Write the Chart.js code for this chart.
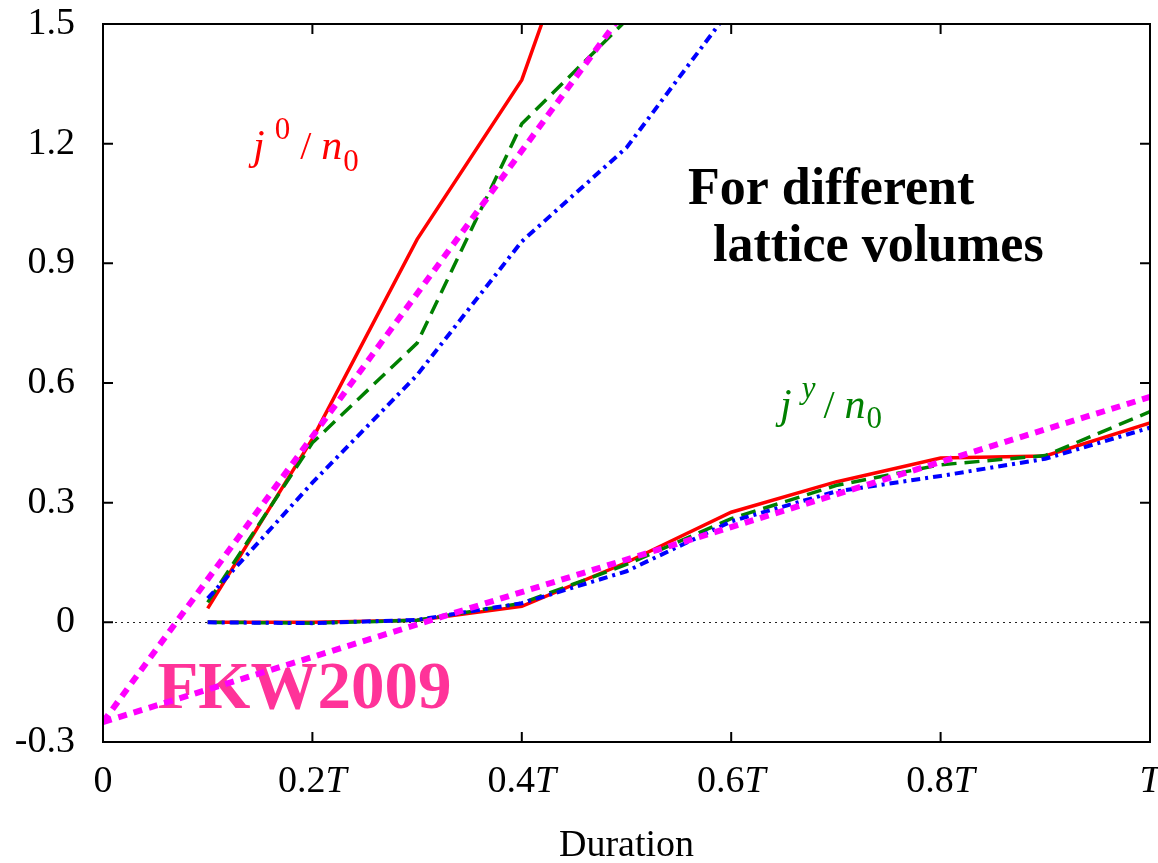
<!DOCTYPE html>
<html>
<head>
<meta charset="utf-8">
<script src="https://cdn.jsdelivr.net/npm/chart.js@4.4.1/dist/chart.umd.min.js"></script>
<style>
    html, body { margin: 0; padding: 0; background: #fff; overflow: hidden; }
    canvas { display: block; }
</style>
</head>
<body>
<canvas id="lineChart" width="1158" height="863"></canvas>
<script>
// durations in units of T
const durations = [0.1, 0.2, 0.3, 0.4, 0.5, 0.6, 0.7, 0.8, 0.9, 1.0];

// j^0 / n_0 (leave the plot above 1.5)
const j0Red = [0.035, 0.46, 0.96, 1.36, 2.1];
const j0Green = [0.05, 0.45, 0.70, 1.25, 1.51];
const j0Blue = [0.06, 0.35, 0.62, 0.955, 1.19, 1.54];

// j^y / n_0
const jyRed = [0, 0, 0.005, 0.04, 0.15, 0.276, 0.352, 0.412, 0.417, 0.50];
const jyGreen = [0, -0.002, 0.005, 0.048, 0.145, 0.26, 0.343, 0.395, 0.418, 0.528];
const jyBlue = [0, -0.002, 0.006, 0.048, 0.128, 0.253, 0.328, 0.367, 0.41, 0.488];

// FKW2009 straight lines
const fitJ0X = [0, 0.5];
const fitJ0 = [-0.25, 1.54];
const fitJyX = [0, 1.0];
const fitJy = [-0.25, 0.565];

// axes
const xTicks = [0, 0.2, 0.4, 0.6, 0.8, 1.0];
const xTickLabels = ['0', '0.2T', '0.4T', '0.6T', '0.8T', 'T'];
const yTicks = [-0.3, 0, 0.3, 0.6, 0.9, 1.2, 1.5];
const yTickLabels = ['-0.3', '0', '0.3', '0.6', '0.9', '1.2', '1.5'];

const SERIF = "'Liberation Serif', 'DejaVu Serif', serif";

function pts(xs, ys) {
    return ys.map((v, i) => ({ x: xs[i], y: v }));
}

function line(data, color, width, dash) {
    return {
        data: data,
        borderColor: color,
        borderWidth: width,
        borderDash: dash,
        borderCapStyle: 'butt',
        pointRadius: 0,
        fill: false,
        tension: 0,
        clip: 0
    };
}

// draws text pieces one after another: [text, font, dy, gap]
function drawPieces(ctx, x, y, color, pieces) {
    ctx.fillStyle = color;
    ctx.textBaseline = 'alphabetic';
    ctx.textAlign = 'left';
    let cx = x;
    pieces.forEach(p => {
        ctx.font = p[1];
        ctx.fillText(p[0], cx + (p[3] || 0), y + p[2]);
        cx += ctx.measureText(p[0]).width + (p[3] || 0);
    });
}

const framePlugin = {
    id: 'frame',
    beforeDatasetsDraw(chart) {
        const { ctx, chartArea: a, scales: { x, y } } = chart;
        ctx.save();
        // zero axis
        const y0 = Math.round(y.getPixelForValue(0)) + 0.5;
        ctx.strokeStyle = '#222';
        ctx.lineWidth = 1;
        ctx.setLineDash([2, 4]);
        ctx.beginPath();
        ctx.moveTo(a.left, y0);
        ctx.lineTo(a.right, y0);
        ctx.stroke();
        ctx.setLineDash([]);
        // FKW2009 sits under the dotted line
        ctx.font = 'bold 67px ' + SERIF;
        ctx.fillStyle = 'rgb(255, 51, 153)';
        ctx.textBaseline = 'alphabetic';
        ctx.fillText('FKW2009', x.getPixelForValue(0.052), y.getPixelForValue(-0.215));
        ctx.restore();
    },
    afterDatasetsDraw(chart) {
        const { ctx, chartArea: a, scales: { x, y } } = chart;
        ctx.save();
        ctx.strokeStyle = '#000';
        ctx.lineWidth = 2;
        ctx.strokeRect(a.left, a.top, a.right - a.left, a.bottom - a.top);
        ctx.beginPath();
        xTicks.forEach(v => {
            const px = x.getPixelForValue(v);
            ctx.moveTo(px, a.bottom); ctx.lineTo(px, a.bottom - 10);
            ctx.moveTo(px, a.top); ctx.lineTo(px, a.top + 10);
        });
        yTicks.forEach(v => {
            const py = y.getPixelForValue(v);
            ctx.moveTo(a.left, py); ctx.lineTo(a.left + 10, py);
            ctx.moveTo(a.right, py); ctx.lineTo(a.right - 10, py);
        });
        ctx.stroke();

        // x tick labels with italic T
        xTickLabels.forEach((lab, i) => {
            const px = x.getPixelForValue(xTicks[i]);
            const num = lab.replace('T', '');
            const hasT = lab.endsWith('T');
            ctx.font = '38px ' + SERIF;
            const w1 = ctx.measureText(num).width;
            ctx.font = 'italic 38px ' + SERIF;
            const w2 = hasT ? ctx.measureText('T').width : 0;
            const left = px - (w1 + w2) / 2;
            ctx.fillStyle = '#000';
            ctx.textBaseline = 'alphabetic';
            ctx.textAlign = 'left';
            ctx.font = '38px ' + SERIF;
            ctx.fillText(num, left, 792);
            if (hasT) {
                ctx.font = 'italic 38px ' + SERIF;
                ctx.fillText('T', left + w1, 792);
            }
        });

        // labels
        drawPieces(ctx, x.getPixelForValue(0.1433), y.getPixelForValue(1.1625), '#ff0000', [
            ['j', 'italic 42px ' + SERIF, 0],
            ['0', '31px ' + SERIF, -20, 10],
            ['/', '40px ' + SERIF, 0, 10],
            ['n', 'italic 42px ' + SERIF, 0, 10],
            ['0', '31px ' + SERIF, 12, 1]
        ]);
        drawPieces(ctx, x.getPixelForValue(0.6466), y.getPixelForValue(0.5125), '#008000', [
            ['j', 'italic 42px ' + SERIF, 0],
            ['y', 'italic 31px ' + SERIF, -20, 10],
            ['/', '40px ' + SERIF, 0, 8],
            ['n', 'italic 42px ' + SERIF, 0, 10],
            ['0', '31px ' + SERIF, 10, 1]
        ]);
        ctx.font = 'bold 52px ' + SERIF;
        ctx.fillStyle = '#000';
        ctx.fillText('For different', x.getPixelForValue(0.5587), y.getPixelForValue(1.05));
        ctx.fillText('lattice volumes', x.getPixelForValue(0.5826), y.getPixelForValue(0.905));
        ctx.restore();
    }
};

window.onload = function () {
    const datasets = [
        line(pts(fitJ0X, fitJ0), '#ff00ff', 6, [9, 7]),
        line(pts(fitJyX, fitJy), '#ff00ff', 6, [9, 7]),
        line(pts(durations, j0Blue), '#0000ff', 4, [9, 5, 3, 5]),
        line(pts(durations, jyBlue), '#0000ff', 4, [9, 5, 3, 5]),
        line(pts(durations, j0Green), '#008000', 3.5, [15, 8]),
        line(pts(durations, jyGreen), '#008000', 3.5, [15, 8]),
        line(pts(durations, j0Red), '#ff0000', 3.5, []),
        line(pts(durations, jyRed), '#ff0000', 3.5, [])
    ];

    new Chart(document.getElementById('lineChart'), {
        type: 'line',
        data: { datasets: datasets },
        options: {
            responsive: false,
            animation: false,
            devicePixelRatio: 1,
            layout: { padding: { top: 24, right: 8, left: 0, bottom: 0 } },
            plugins: { legend: { display: false }, tooltip: { enabled: false } },
            scales: {
                x: {
                    type: 'linear',
                    min: 0,
                    max: 1,
                    afterBuildTicks: s => { s.ticks = xTicks.map(v => ({ value: v })); },
                    afterFit: s => {
                        s.height = 121;
                        s.paddingLeft = 0; s.paddingRight = 0;
                    },
                    grid: { display: false },
                    border: { display: false },
                    ticks: { display: false },
                    title: {
                        display: true,
                        text: 'Duration',
                        color: '#000',
                        font: { family: SERIF, size: 38 },
                        padding: { top: 0, bottom: -6 }
                    }
                },
                y: {
                    type: 'linear',
                    min: -0.3,
                    max: 1.5,
                    afterBuildTicks: s => { s.ticks = yTicks.map(v => ({ value: v })); },
                    afterFit: s => {
                        s.width = 103;
                        s.paddingTop = 0; s.paddingBottom = 0;
                    },
                    grid: { display: false },
                    border: { display: false },
                    ticks: {
                        color: '#000',
                        padding: 20,
                        font: { family: SERIF, size: 38 },
                        callback: (v, i) => yTickLabels[i]
                    }
                }
            }
        },
        plugins: [framePlugin]
    });
};
</script>
</body>
</html>
